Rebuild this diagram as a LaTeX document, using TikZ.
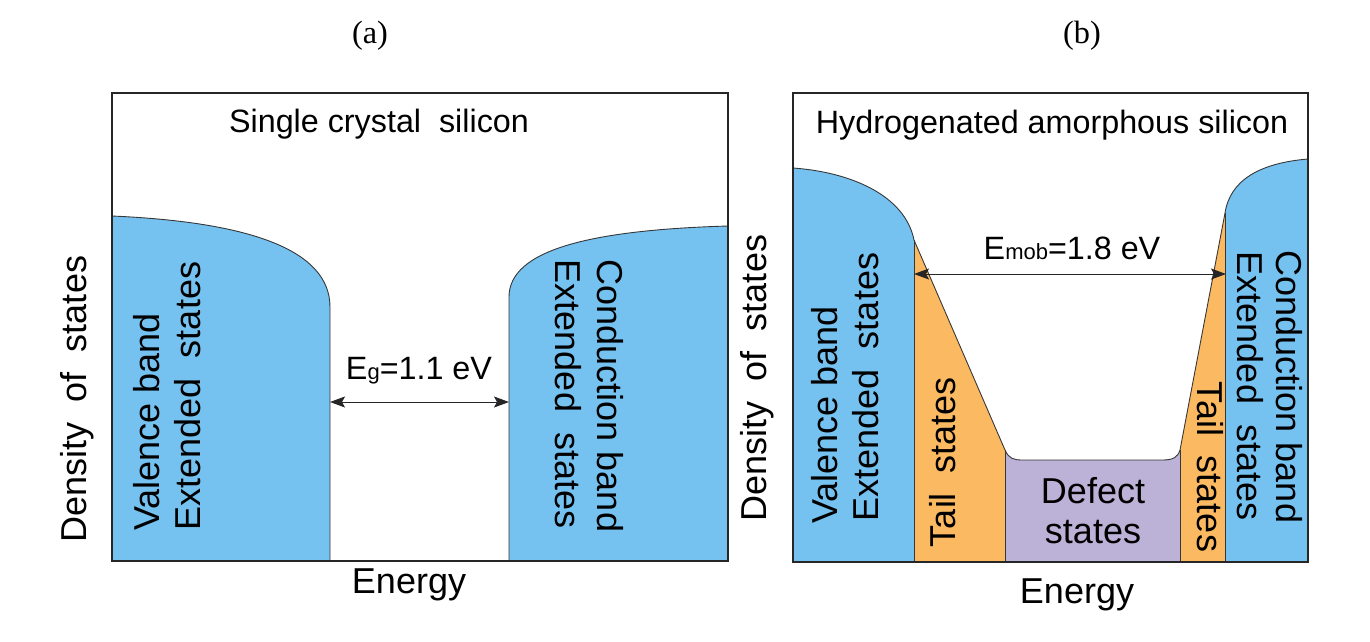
\documentclass[tikz,border=0pt]{standalone}
\usepackage{fontspec}
\setmainfont{Liberation Sans}
\newfontfamily\capfont{Liberation Serif}
\usetikzlibrary{arrows.meta}
\definecolor{bandblue}{RGB}{117,193,239}
\definecolor{tailorange}{RGB}{251,186,98}
\definecolor{defectlilac}{RGB}{188,177,214}
\definecolor{edgegray}{RGB}{55,55,55}
\newcommand{\bigtxt}{\fontsize{36}{40}\selectfont}
\newcommand{\midtxt}{\fontsize{32.3}{36}\selectfont}
\newcommand{\subtxt}{\fontsize{22}{24}\selectfont}
\begin{document}
\begin{tikzpicture}[x=1pt,y=-1pt,
  edge/.style={draw=edgegray,line width=0.9pt},
  frame/.style={draw=black!85,line width=1.3pt},
  gap/.style={{Stealth[length=15pt,width=11pt,inset=3pt]}-{Stealth[length=15pt,width=11pt,inset=3pt]},line width=1pt,black!85},
  lbl/.style={inner sep=0pt,font=\bigtxt,anchor=base},
  vlbl/.style={lbl,rotate=90},
  wlbl/.style={lbl,rotate=-90},
  ttl/.style={inner sep=0pt,font=\midtxt,anchor=base},
  paneltag/.style={inner sep=0pt,font=\capfont\midtxt,anchor=base}]
\useasboundingbox (0,0) rectangle (1370,641);

% ---------- panel (a) ----------
\fill[bandblue] (112,561) -- (112,216) .. controls (250,222) and (330,250) .. (330,307) -- (330,561) -- cycle;
\draw[edge] (112,216) .. controls (250,222) and (330,250) .. (330,307) -- (330,561);
\fill[bandblue] (509,561) -- (509,297) .. controls (509,250) and (590,230) .. (728,226) -- (728,561) -- cycle;
\draw[edge] (509,561) -- (509,297) .. controls (509,250) and (590,230) .. (728,226);
\draw[frame] (112,93) rectangle (728,561);

\coordinate (vbA) at (330,402);
\coordinate (cbA) at (509,402);
\draw[gap] (vbA) -- (cbA);

\node[paneltag] (capA) at (370,43) {(a)};
\node[ttl] (titleA) at (379,132) {Single crystal\ \ silicon};
\node[ttl] (egA) at (419,379) {E{\subtxt g}=1.1 eV};
\node[vlbl] (valA) at (159,422) {Valence band};
\node[vlbl] (extA) at (200,396) {Extended\ \ states};
\node[wlbl] (extcA) at (555,394) {Extended\ \ states};
\node[wlbl] (conA) at (597,396) {Conduction band};
\node[vlbl] (dosA) at (86,399) {Density\ \ of\ \ states};
\node[lbl] (enA) at (409,593) {Energy};

% ---------- panel (b) ----------
\fill[bandblue] (793,562) -- (793,168) .. controls (850,172) and (905,195) .. (914,240) -- (914,562) -- cycle;
\fill[tailorange] (914,240) -- (1005,450) -- (1005,562) -- (914,562) -- cycle;
\fill[defectlilac] (1005,450) .. controls (1009,459) and (1014,460) .. (1023,460) -- (1163,460) .. controls (1173,460) and (1178,457) .. (1180,450) -- (1180,562) -- (1005,562) -- cycle;
\fill[tailorange] (1180,450) -- (1225,213) -- (1225,562) -- (1180,562) -- cycle;
\fill[bandblue] (1225,562) -- (1225,213) .. controls (1230,180) and (1260,163) .. (1308,159) -- (1308,562) -- cycle;
\draw[edge] (793,168) .. controls (850,172) and (905,195) .. (914,240) -- (1005,450)
  .. controls (1009,459) and (1014,460) .. (1023,460) -- (1163,460)
  .. controls (1173,460) and (1178,457) .. (1180,450) -- (1225,213)
  .. controls (1230,180) and (1260,163) .. (1308,159);
\draw[edge] (914,240) -- (914,562);
\draw[edge] (1005,450) -- (1005,562);
\draw[edge] (1180,450) -- (1180,562);
\draw[edge] (1225,213) -- (1225,562);
\draw[frame] (793,93) rectangle (1308,562);

\coordinate (vbB) at (914,274);
\coordinate (cbB) at (1226,274);
\draw[gap] (vbB) -- (cbB);

\node[paneltag] (capB) at (1082,43) {(b)};
\node[ttl] (titleB) at (1052,133) {Hydrogenated amorphous silicon};
\node[ttl] (emB) at (1072,259) {E{\subtxt mob}=1.8 eV};
\node[vlbl] (valB) at (837,415) {Valence band};
\node[vlbl] (extB) at (878,387) {Extended\ \ states};
\node[vlbl] (tailB) at (955,462) {Tail\ \ states};
\node[lbl] (defB) at (1093,503) {Defect};
\node[lbl] (defsB) at (1093,543) {states};
\node[wlbl] (tailcB) at (1197,467) {Tail\ \ states};
\node[wlbl] (extcB) at (1237,386) {Extended\ \ states};
\node[wlbl] (conB) at (1276,387) {Conduction band};
\node[vlbl] (dosB) at (766,378) {Density\ \ of\ \ states};
\node[lbl] (enB) at (1077,603) {Energy};
\end{tikzpicture}
\end{document}
